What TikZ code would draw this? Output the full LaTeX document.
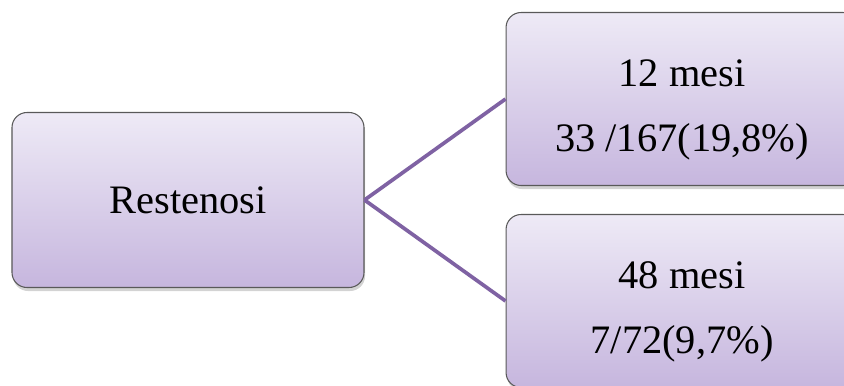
\documentclass[tikz,border=0pt]{standalone}
\usepackage{fontspec}
\setmainfont{Liberation Serif}
\usetikzlibrary{positioning,shadows}
\definecolor{boxtop}{HTML}{EEEAF6}
\definecolor{boxbot}{HTML}{C6B6DE}
\definecolor{linkcol}{HTML}{7F62A3}

\tikzset{
  resbox/.style={draw=black!65,line width=0.6pt,rounded corners=0.3cm,
    top color=boxtop,bottom color=boxbot,align=center,
    minimum width=7.04cm,minimum height=3.5cm,
    font=\fontsize{23}{37}\selectfont,
    drop shadow={opacity=0.35,shadow xshift=0.6pt,shadow yshift=-2pt}},
  link/.style={draw=linkcol,line width=2.1pt}
}

\begin{document}
\begin{tikzpicture}
    \clip (-3.76,-3.7) rectangle (13.12,4.0);
    \node[resbox] (rest) {Restenosi};
    \node[resbox,minimum height=3.46cm,right=2.82cm of rest,yshift=2.02cm] (m12) {\rule{0pt}{28pt}12 mesi\\33 /167(19,8\%)};
    \node[resbox,minimum height=3.46cm,right=2.82cm of rest,yshift=-2.02cm] (m48) {\rule{0pt}{28pt}48 mesi\\7/72(9,7\%)};
    \draw[link] (rest.east)--(m12.west);
    \draw[link] (rest.east)--(m48.west);
  \end{tikzpicture}
\end{document}
